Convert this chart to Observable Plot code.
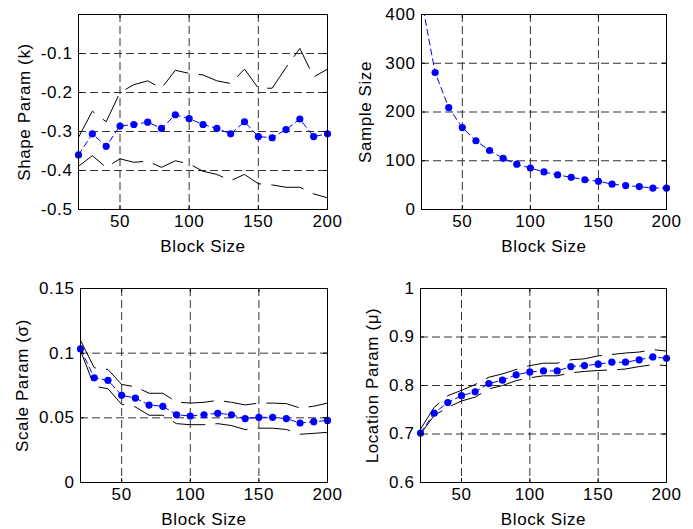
<!DOCTYPE html>
<html>
<head>
<meta charset="utf-8">
<script src="https://cdn.jsdelivr.net/npm/d3@7"></script>
<script src="https://cdn.jsdelivr.net/npm/@observablehq/plot@0.6"></script>
<style>
  html, body { margin: 0; padding: 0; background: white; }
  #fig { position: relative; width: 693px; height: 529px; background: white; }
  #fig > svg { position: absolute; }
</style>
</head>
<body>
<div id="fig"></div>
<script>
// ---- data ----
const blockSize = [20, 30, 40, 50, 60, 70, 80, 90, 100, 110, 120, 130, 140, 150, 160, 170, 180, 190, 200];

const shapeMid   = [-0.36, -0.306, -0.338, -0.286, -0.282, -0.276, -0.292, -0.257, -0.267, -0.282, -0.292, -0.306, -0.275, -0.313, -0.316, -0.295, -0.268, -0.313, -0.306];
const shapeUpper = [-0.315, -0.248, -0.275, -0.2, -0.18, -0.17, -0.189, -0.143, -0.151, -0.155, -0.17, -0.177, -0.14, -0.189, -0.189, -0.136, -0.087, -0.16, -0.14];
const shapeLower = [-0.389, -0.362, -0.392, -0.37, -0.379, -0.376, -0.392, -0.375, -0.383, -0.402, -0.41, -0.426, -0.41, -0.434, -0.437, -0.443, -0.443, -0.46, -0.47];

const sampleSize = [430, 281, 209, 168, 141, 121, 105, 93, 85, 77, 71, 66, 61, 58, 52, 49, 47, 44, 44];

const scaleMid   = [0.1033, 0.081, 0.079, 0.0674, 0.0653, 0.0599, 0.0589, 0.0524, 0.0514, 0.0524, 0.0535, 0.0524, 0.0494, 0.0504, 0.0504, 0.0494, 0.046, 0.047, 0.048];
const scaleUpper = [0.11, 0.0887, 0.0874, 0.0758, 0.074, 0.069, 0.069, 0.0622, 0.0614, 0.062, 0.0635, 0.062, 0.06, 0.0614, 0.0614, 0.061, 0.0576, 0.059, 0.0614];
const scaleLower = [0.102, 0.0745, 0.0725, 0.0604, 0.0584, 0.052, 0.052, 0.0455, 0.0447, 0.0447, 0.0455, 0.044, 0.0409, 0.042, 0.042, 0.041, 0.0373, 0.038, 0.0388];

const locMid   = [0.702, 0.743, 0.765, 0.779, 0.787, 0.804, 0.811, 0.822, 0.828, 0.830, 0.830, 0.839, 0.841, 0.844, 0.848, 0.848, 0.853, 0.859, 0.856];
const locUpper = [0.71, 0.755, 0.779, 0.79, 0.802, 0.817, 0.824, 0.833, 0.841, 0.846, 0.846, 0.853, 0.855, 0.861, 0.864, 0.867, 0.869, 0.874, 0.871];
const locLower = [0.70, 0.738, 0.755, 0.768, 0.776, 0.793, 0.80, 0.81, 0.816, 0.82, 0.82, 0.826, 0.829, 0.831, 0.832, 0.834, 0.839, 0.843, 0.841];

const xDomain = [20, 200];
const xTicks = [50, 100, 150, 200];
const shapeTicks  = [-0.5, -0.4, -0.3, -0.2, -0.1];
const sampleTicks = [0, 100, 200, 300, 400];
const scaleTicks  = [0, 0.05, 0.1, 0.15];
const locTicks    = [0.6, 0.7, 0.8, 0.9, 1];

const xLabel = "Block Size";
const shapeLabel  = "Shape Param (k)";
const sampleLabel = "Sample Size";
const scaleLabel  = "Scale Param (σ)";
const locLabel    = "Location Param (μ)";

// ---- helpers ----
const FONT = "'Liberation Sans', Arial, Helvetica, sans-serif";
function rows(mid, upper, lower) {
  return blockSize.map((b, i) => ({b, mid: mid[i], upper: upper ? upper[i] : null, lower: lower ? lower[i] : null}));
}

function panel({left, top, width, height, margin, data, yDomain, yTicks, yLabel, yLabelOffset, bounds, xLabelOffset}) {
  const [y0, y1] = yDomain;
  const plotH = height - margin.top - margin.bottom;
  const plotW = width - margin.left - margin.right;
  const tyLen = (y1 - y0) * 4 / plotH;   // inward tick length in data units
  const txLen = (xDomain[1] - xDomain[0]) * 4 / plotW;
  const innerX = xTicks.filter(t => t > xDomain[0] && t < xDomain[1]);
  const innerY = yTicks.filter(t => t > y0 && t < y1);
  const marks = [
    Plot.gridX(innerX, {stroke: "#333", strokeOpacity: 1, strokeDasharray: "8,4"}),
    Plot.gridY(yTicks, {stroke: "#333", strokeOpacity: 1, strokeDasharray: "8,4"}),
  ];
  if (bounds) {
    marks.push(Plot.line(data, {x: "b", y: "upper", stroke: "black", strokeWidth: 1, strokeDasharray: "32,11", clip: true}));
    marks.push(Plot.line(data, {x: "b", y: "lower", stroke: "black", strokeWidth: 1, strokeDasharray: "32,11", clip: true}));
  }
  marks.push(
    Plot.line(data, {x: "b", y: "mid", stroke: "#0000ff", strokeWidth: 1, strokeDasharray: "6,4", clip: true}),
    Plot.dot(data.filter(d => d.mid >= y0 && d.mid <= y1), {x: "b", y: "mid", r: 3.6, fill: "#0000ff", stroke: "none"}),
    // inward ticks on all four sides (MATLAB box style)
    Plot.ruleX(innerX, {x: d => d, y1: y0, y2: y0 + tyLen, stroke: "black"}),
    Plot.ruleX(innerX, {x: d => d, y1: y1, y2: y1 - tyLen, stroke: "black"}),
    Plot.ruleY(innerY, {y: d => d, x1: xDomain[0], x2: xDomain[0] + txLen, stroke: "black"}),
    Plot.ruleY(innerY, {y: d => d, x1: xDomain[1], x2: xDomain[1] - txLen, stroke: "black"}),
    Plot.frame({stroke: "black", strokeWidth: 1}),
    Plot.axisX(xTicks, {tickSize: 0, tickPadding: 5, tickFormat: d => String(d), fontSize: 17,
      label: xLabel, labelAnchor: "center", labelOffset: xLabelOffset, labelArrow: "none"}),
    Plot.axisY(yTicks, {tickSize: 0, tickPadding: 6, tickFormat: d => String(d), fontSize: 17,
      label: yLabel, labelAnchor: "center", labelOffset: yLabelOffset, labelArrow: "none"})
  );
  const svg = Plot.plot({
    width, height,
    marginLeft: margin.left, marginRight: margin.right, marginTop: margin.top, marginBottom: margin.bottom,
    x: {domain: xDomain, label: xLabel},
    y: {domain: yDomain, label: yLabel},
    style: {fontFamily: FONT, fontSize: "17px", letterSpacing: "0.6px", color: "black", background: "white", overflow: "visible"},
    marks
  });
  svg.style.left = left + "px";
  svg.style.top = top + "px";
  document.getElementById("fig").appendChild(svg);
}

panel({left: 0, top: 0, width: 346, height: 262, margin: {left: 78, right: 19, top: 14, bottom: 53},
  data: rows(shapeMid, shapeUpper, shapeLower), yDomain: [-0.5, 0], yTicks: shapeTicks, yLabel: shapeLabel,
  yLabelOffset: 61, bounds: true, xLabelOffset: 42});

panel({left: 346, top: 0, width: 347, height: 262, margin: {left: 75, right: 27, top: 14, bottom: 53},
  data: rows(sampleSize), yDomain: [0, 400], yTicks: sampleTicks, yLabel: sampleLabel,
  yLabelOffset: 63, bounds: false, xLabelOffset: 42});

panel({left: 0, top: 262, width: 346, height: 267, margin: {left: 80, right: 19, top: 26, bottom: 47},
  data: rows(scaleMid, scaleUpper, scaleLower), yDomain: [0, 0.15], yTicks: scaleTicks, yLabel: scaleLabel,
  yLabelOffset: 65, bounds: true, xLabelOffset: 42});

panel({left: 346, top: 262, width: 347, height: 267, margin: {left: 74, right: 27, top: 26, bottom: 47},
  data: rows(locMid, locUpper, locLower), yDomain: [0.6, 1], yTicks: locTicks, yLabel: locLabel,
  yLabelOffset: 55, bounds: true, xLabelOffset: 42});
</script>
</body>
</html>
